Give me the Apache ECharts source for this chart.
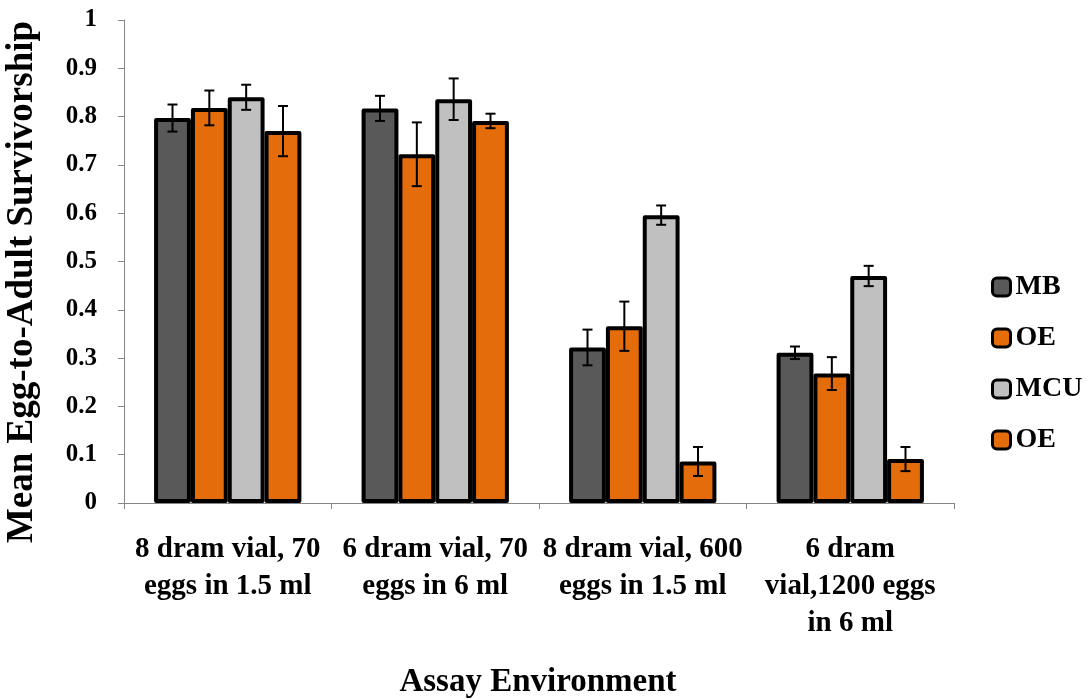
<!DOCTYPE html>
<html>
<head>
<meta charset="utf-8">
<script src="https://cdn.jsdelivr.net/npm/echarts@6/dist/echarts.min.js"></script>
<style>
html,body{margin:0;padding:0;background:#fff;}
#chart{width:1088px;height:700px;}
</style>
</head>
<body>
<div id="chart"></div>
<script>
var categories = ['8 dram vial, 70\neggs in 1.5 ml', '6 dram vial, 70\neggs in 6 ml', '8 dram vial, 600\neggs in 1.5 ml', '6 dram\nvial,1200 eggs\nin 6 ml'];
var seriesNames = ['MB', 'OE', 'MCU', 'OE'];
var mbValues = [0.797, 0.817, 0.322, 0.311];
var oe1Values = [0.818, 0.722, 0.366, 0.268];
var mcuValues = [0.840, 0.836, 0.596, 0.470];
var oe2Values = [0.770, 0.791, 0.086, 0.091];
var mbErr = [0.028, 0.026, 0.037, 0.013];
var oe1Err = [0.036, 0.066, 0.051, 0.034];
var mcuErr = [0.026, 0.043, 0.020, 0.021];
var oe2Err = [0.052, 0.015, 0.030, 0.025];
var yTicks = [0, 0.1, 0.2, 0.3, 0.4, 0.5, 0.6, 0.7, 0.8, 0.9, 1];

var FONT = "'Liberation Serif', 'Times New Roman', serif";
var colors = ['#595959', '#E46C0A', '#C0C0C0', '#E46C0A'];
var values = [mbValues, oe1Values, mcuValues, oe2Values];
var errs = [mbErr, oe1Err, mcuErr, oe2Err];
var ids = ['s0', 's1', 's2', 's3'];
var CAT_GAP = 0.29;

var chart = echarts.init(document.getElementById('chart'));

var series = [];
values.forEach(function (vals, i) {
  series.push({
    name: ids[i],
    type: 'bar',
    data: vals,
    barGap: '0%',
    barCategoryGap: (CAT_GAP * 100) + '%',
    itemStyle: { color: colors[i], borderColor: '#000', borderWidth: 4, borderJoin: 'round' },
    emphasis: { disabled: true },
    z: 2
  });
});

var errData = [];
values.forEach(function (vals, i) {
  vals.forEach(function (v, c) {
    errData.push([c, v, errs[i][c], i]);
  });
});

series.push({
  type: 'custom',
  name: 'err',
  data: errData,
  encode: { x: 0, y: 1 },
  z: 5,
  silent: true,
  renderItem: function (params, api) {
    var c = api.value(0), v = api.value(1), e = api.value(2), s = api.value(3);
    var band = api.size([1, 0])[0];
    var bw = band * (1 - CAT_GAP) / 4;
    var base = api.coord([c, v]);
    var x = base[0] + (s - 1.5) * bw;
    var yTop = api.coord([c, v + e])[1];
    var yBot = api.coord([c, v - e])[1];
    var cap = 5;
    var st = { stroke: '#000', lineWidth: 2 };
    return {
      type: 'group',
      children: [
        { type: 'line', shape: { x1: x, y1: yTop, x2: x, y2: yBot }, style: st },
        { type: 'line', shape: { x1: x - cap, y1: yTop, x2: x + cap, y2: yTop }, style: st },
        { type: 'line', shape: { x1: x - cap, y1: yBot, x2: x + cap, y2: yBot }, style: st }
      ]
    };
  }
});

var option = {
  backgroundColor: '#fff',
  animation: false,
  grid: { left: 124, right: 134, top: 20, bottom: 197, containLabel: false },
  legend: {
    orient: 'vertical',
    left: 986,
    top: 268,
    itemWidth: 18,
    itemHeight: 18,
    itemGap: 23,
    data: ids,
    formatter: function (n) { return seriesNames[ids.indexOf(n)]; },
    itemStyle: { borderColor: '#000', borderWidth: 3 },
    textStyle: { fontFamily: FONT, fontWeight: 'bold', fontSize: 28, color: '#000' },
    selectedMode: false
  },
  xAxis: {
    type: 'category',
    data: categories,
    axisLine: { lineStyle: { color: '#868686', width: 1 } },
    axisTick: { show: true, length: 6, lineStyle: { color: '#868686' }, alignWithLabel: false },
    axisLabel: {
      interval: 0,
      margin: 28,
      fontFamily: FONT,
      fontWeight: 'bold',
      fontSize: 29,
      lineHeight: 37,
      color: '#000'
    },
    splitLine: { show: false }
  },
  yAxis: {
    type: 'value',
    min: yTicks[0],
    max: yTicks[yTicks.length - 1],
    interval: 0.1,
    axisLine: { show: true, lineStyle: { color: '#868686', width: 1 } },
    axisTick: { show: true, length: 6, lineStyle: { color: '#868686' } },
    axisLabel: {
      margin: 27,
      fontFamily: FONT,
      fontWeight: 'bold',
      fontSize: 25,
      color: '#000',
      formatter: function (v) { return String(Math.round(v * 10) / 10); }
    },
    splitLine: { show: false }
  },
  graphic: [
    {
      type: 'text',
      x: 22, y: 282,
      rotation: Math.PI / 2,
      style: {
        text: 'Mean Egg-to-Adult Survivorship',
        fontFamily: FONT, fontWeight: 'bold', fontSize: 37, fill: '#000',
        align: 'center', verticalAlign: 'middle'
      }
    },
    {
      type: 'text',
      x: 538, y: 682,
      style: {
        text: 'Assay Environment',
        fontFamily: FONT, fontWeight: 'bold', fontSize: 33, fill: '#000',
        align: 'center', verticalAlign: 'middle'
      }
    }
  ],
  series: series
};

chart.setOption(option);
</script>
</body>
</html>
